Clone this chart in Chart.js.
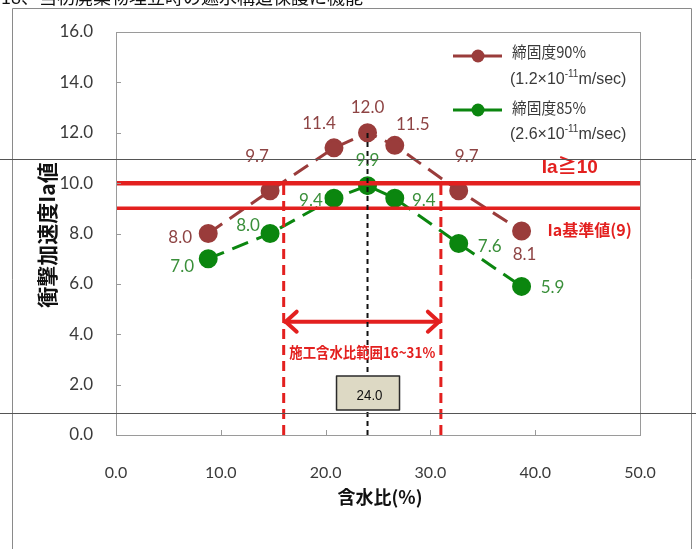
<!DOCTYPE html>
<html><head><meta charset="utf-8">
<script src="https://cdn.jsdelivr.net/npm/chart.js@4/dist/chart.umd.min.js"></script>
<style>html,body{margin:0;padding:0;background:#fff}#wrap{width:696px;height:549px;position:relative}</style>
</head><body><div id="wrap"><canvas id="c" width="696" height="549"></canvas></div>
<script>
// Water content (%) of each test point
const waterContent = [8.8, 14.7, 20.8, 24.0, 26.6, 32.7, 38.7];
// Impact acceleration Ia at 90% and 85% compaction
const ia90 = [8.0, 9.7, 11.4, 12.0, 11.5, 9.7, 8.1];
const ia85 = [7.0, 8.0, 9.4, 9.9, 9.4, 7.6, 5.9];
const seriesNames = ['締固度90%', '締固度85%'];
const seriesPerm = ['1.2', '2.6'];
const xTicks = [0, 10, 20, 30, 40, 50];
const yTicks = [0, 2, 4, 6, 8, 10, 12, 14, 16];
// Reference levels and construction range
const iaRequired = 10;
const iaStandard = 9;
const rangeLow = 16;
const rangeHigh = 31;
const optimum = 24.0;
const arrowLevel = 4.5;
const optimumBoxLevel = 1.67;

// Label offsets (px) for value labels
const off90 = [[-28, 4], [-13, -34], [-15, -24], [0, -25], [18, -21], [8, -34], [3, 24]];
const off85 = [[-26, 8], [-22, -8], [-23, 2], [0, -25], [29, 2], [31, 3], [31, 1]];

const BROWN = '#9a3c3b';
const BROWN_TXT = '#8e4444';
const GREEN = '#0b860f';
const GREEN_TXT = '#3a8f3a';
const RED = '#e3201f';
const NUM_FONT = 'Lato, "Liberation Sans", sans-serif';
const JP_FONT = '"Noto Sans CJK JP", "Noto Sans", sans-serif';

const pts = (ys) => waterContent.map((x, i) => ({ x, y: ys[i] }));

// draws text squeezed horizontally to a given width
function fitText(ctx, text, x, y, width, align) {
  const w = ctx.measureText(text).width;
  const k = Math.min(1, width / w);
  ctx.save();
  ctx.translate(x, y);
  ctx.scale(k, 1);
  ctx.textAlign = align;
  ctx.fillText(text, 0, 0);
  ctx.restore();
  return w * k;
}

const decor = {
  id: 'decor',
  beforeDraw(chart) {
    const ctx = chart.ctx;
    ctx.save();
    ctx.fillStyle = '#fff';
    ctx.fillRect(0, 0, chart.width, chart.height);
    // page frame
    ctx.strokeStyle = '#8a8a8a';
    ctx.lineWidth = 1;
    ctx.beginPath();
    ctx.moveTo(12.5, 560); ctx.lineTo(12.5, 8.5); ctx.lineTo(691.5, 8.5); ctx.lineTo(691.5, 560);
    ctx.stroke();
    // caption line above the frame
    ctx.fillStyle = '#111';
    ctx.font = '18px ' + JP_FONT;
    ctx.textBaseline = 'alphabetic';
    ctx.textAlign = 'left';
    ctx.fillText('18、当初廃棄物埋立時の遮水構造保護に機能', 1, 4);
    ctx.restore();
  },
  afterDraw(chart) {
    const ctx = chart.ctx;
    const xs = chart.scales.x, ys = chart.scales.y;
    const a = chart.chartArea;
    ctx.save();
    // plot border and inner ticks
    ctx.strokeStyle = '#9a9a9a';
    ctx.lineWidth = 1;
    ctx.strokeRect(Math.round(a.left) + 0.5, Math.round(a.top) + 0.5, Math.round(a.right - a.left), Math.round(a.bottom - a.top));
    ctx.beginPath();
    yTicks.forEach(v => { const y = Math.round(ys.getPixelForValue(v)) + 0.5; ctx.moveTo(a.left, y); ctx.lineTo(a.left + 5, y); });
    xTicks.forEach(v => { const x = Math.round(xs.getPixelForValue(v)) + 0.5; ctx.moveTo(x, a.bottom); ctx.lineTo(x, a.bottom - 5); });
    ctx.stroke();

    // arrowheads of the construction range
    const ay = ys.getPixelForValue(arrowLevel);
    const lx = xs.getPixelForValue(rangeLow), rx = xs.getPixelForValue(rangeHigh);
    ctx.strokeStyle = RED; ctx.lineWidth = 4; ctx.lineCap = 'round'; ctx.lineJoin = 'round';
    ctx.beginPath();
    ctx.moveTo(lx + 13, ay - 10); ctx.lineTo(lx + 2, ay); ctx.lineTo(lx + 13, ay + 10);
    ctx.moveTo(rx - 13, ay - 10); ctx.lineTo(rx - 2, ay); ctx.lineTo(rx - 13, ay + 10);
    ctx.stroke();

    // range caption
    ctx.fillStyle = RED;
    ctx.textBaseline = 'middle';
    ctx.font = 'bold 15px ' + JP_FONT;
    fitText(ctx, '施工含水比範囲16~31%', (lx + rx) / 2, ay + 31, 146, 'center');

    // optimum water content box
    const bx = xs.getPixelForValue(optimum), by = ys.getPixelForValue(optimumBoxLevel);
    ctx.fillStyle = '#ddd9c4';
    ctx.fillRect(bx - 31, by - 17, 63, 34);
    ctx.strokeStyle = '#2a2a2a'; ctx.lineWidth = 1.5;
    ctx.strokeRect(bx - 31, by - 17, 63, 34);
    ctx.fillStyle = '#111';
    ctx.font = '14px "Liberation Sans", sans-serif';
    fitText(ctx, optimum.toFixed(1), bx + 2, by + 3, 26, 'center');

    // reference line captions
    ctx.fillStyle = RED;
    ctx.font = 'bold 19px "Liberation Sans", ' + JP_FONT;
    fitText(ctx, 'Ia≧10', xs.getPixelForValue(43.3), ys.getPixelForValue(iaRequired + 0.6), 60, 'center');
    ctx.font = 'bold 16px ' + JP_FONT;
    fitText(ctx, 'Ia基準値(9)', xs.getPixelForValue(45.2), ys.getPixelForValue(8.15), 86, 'center');

    // value labels
    ctx.font = '17px ' + NUM_FONT;
    ctx.textAlign = 'center';
    [[0, ia90, off90, BROWN_TXT], [1, ia85, off85, GREEN_TXT]].forEach(([di, vals, offs, col]) => {
      const meta = chart.getDatasetMeta(di);
      ctx.fillStyle = col;
      meta.data.forEach((el, i) => {
        ctx.fillText(vals[i].toFixed(1), el.x + offs[i][0], el.y + offs[i][1]);
      });
    });

    // legend
    const items = [[BROWN, 56, 52, 80], [GREEN, 110, 108, 135]];
    items.forEach(([col, ly, ty, sy], i) => {
      ctx.strokeStyle = col; ctx.lineWidth = 3; ctx.lineCap = 'butt';
      ctx.beginPath(); ctx.moveTo(453, ly); ctx.lineTo(502, ly); ctx.stroke();
      ctx.fillStyle = col;
      ctx.beginPath(); ctx.arc(478, ly, 6.5, 0, Math.PI * 2); ctx.fill();
      ctx.fillStyle = '#3a3a3a';
      ctx.textBaseline = 'middle';
      ctx.font = '16px ' + JP_FONT;
      fitText(ctx, seriesNames[i], 512, ty, 74, 'left');
      let x = 510;
      ctx.font = '16px "Liberation Sans", ' + JP_FONT;
      x += fitText(ctx, '(' + seriesPerm[i] + '×10', x, sy, 56, 'left');
      ctx.font = '10px "Liberation Sans", sans-serif';
      x += fitText(ctx, '-11', x, sy - 6, 14, 'left');
      ctx.font = '16px "Liberation Sans", ' + JP_FONT;
      fitText(ctx, 'm/sec)', x, sy, 50, 'left');
    });

    // axis titles
    ctx.fillStyle = '#111';
    ctx.textBaseline = 'middle';
    ctx.font = 'bold 18px ' + JP_FONT;
    fitText(ctx, '含水比(%)', 380, 497, 86, 'center');
    ctx.save();
    ctx.translate(47, 235);
    ctx.rotate(-Math.PI / 2);
    ctx.font = 'bold 21px ' + JP_FONT;
    ctx.textAlign = 'center';
    ctx.fillText('衝撃加速度Ia値', 0, 0);
    ctx.restore();

    // page rules crossing the figure
    ctx.strokeStyle = '#555';
    ctx.lineWidth = 1;
    ctx.beginPath();
    ctx.moveTo(0, 159.5); ctx.lineTo(chart.width, 159.5);
    ctx.moveTo(0, 413.5); ctx.lineTo(chart.width, 413.5);
    ctx.stroke();
    ctx.restore();
  }
};

const refLine = (data, color, width, dash, order) => ({
  data, borderColor: color, borderWidth: width, borderDash: dash, pointRadius: 0,
  showLine: true, fill: false, order, borderCapStyle: 'butt'
});

new Chart(document.getElementById('c'), {
  type: 'scatter',
  data: {
    datasets: [
      {
        label: seriesNames[0], data: pts(ia90), showLine: true,
        borderColor: BROWN, borderWidth: 3, borderDash: [17, 9],
        pointRadius: 8, pointBackgroundColor: BROWN, pointBorderColor: BROWN, order: 10
      },
      {
        label: seriesNames[1], data: pts(ia85), showLine: true,
        borderColor: GREEN, borderWidth: 3, borderDash: [17, 9],
        pointRadius: 8, pointBackgroundColor: GREEN, pointBorderColor: GREEN, order: 9
      },
      refLine([{ x: 0, y: iaRequired }, { x: 50, y: iaRequired }], RED, 4.5, [], 3),
      refLine([{ x: 0, y: iaStandard }, { x: 50, y: iaStandard }], RED, 3.5, [], 3),
      refLine([{ x: rangeLow, y: 0 }, { x: rangeLow, y: iaRequired }], RED, 3, [10, 6], 2),
      refLine([{ x: rangeHigh, y: 0 }, { x: rangeHigh, y: iaRequired }], RED, 3, [10, 6], 2),
      refLine([{ x: optimum, y: 0 }, { x: optimum, y: ia90[3] }], '#111', 2, [5, 4], 1),
      refLine([{ x: rangeLow, y: arrowLevel }, { x: rangeHigh, y: arrowLevel }], RED, 4, [], 2)
    ]
  },
  options: {
    responsive: false,
    animation: false,
    layout: { padding: { left: 0, right: 56, top: 32, bottom: 0 } },
    plugins: { legend: { display: false }, tooltip: { enabled: false } },
    scales: {
      x: {
        type: 'linear', min: 0, max: 50,
        afterBuildTicks: s => { s.ticks = xTicks.map(v => ({ value: v })); },
        afterFit: s => { s.height = 114; },
        grid: { display: false },
        border: { display: false },
        ticks: {
          padding: 20, color: '#3a3a3a', maxRotation: 0,
          font: { family: NUM_FONT, size: 16 },
          callback: v => Number(v).toFixed(1)
        }
      },
      y: {
        type: 'linear', min: 0, max: 16,
        afterBuildTicks: s => { s.ticks = yTicks.map(v => ({ value: v })); },
        afterFit: s => { s.width = 116; },
        grid: { display: false },
        border: { display: false },
        ticks: {
          padding: 15, color: '#3a3a3a',
          font: { family: NUM_FONT, size: 17 },
          callback: v => Number(v).toFixed(1)
        }
      }
    }
  },
  plugins: [decor]
});
</script>
</body></html>
